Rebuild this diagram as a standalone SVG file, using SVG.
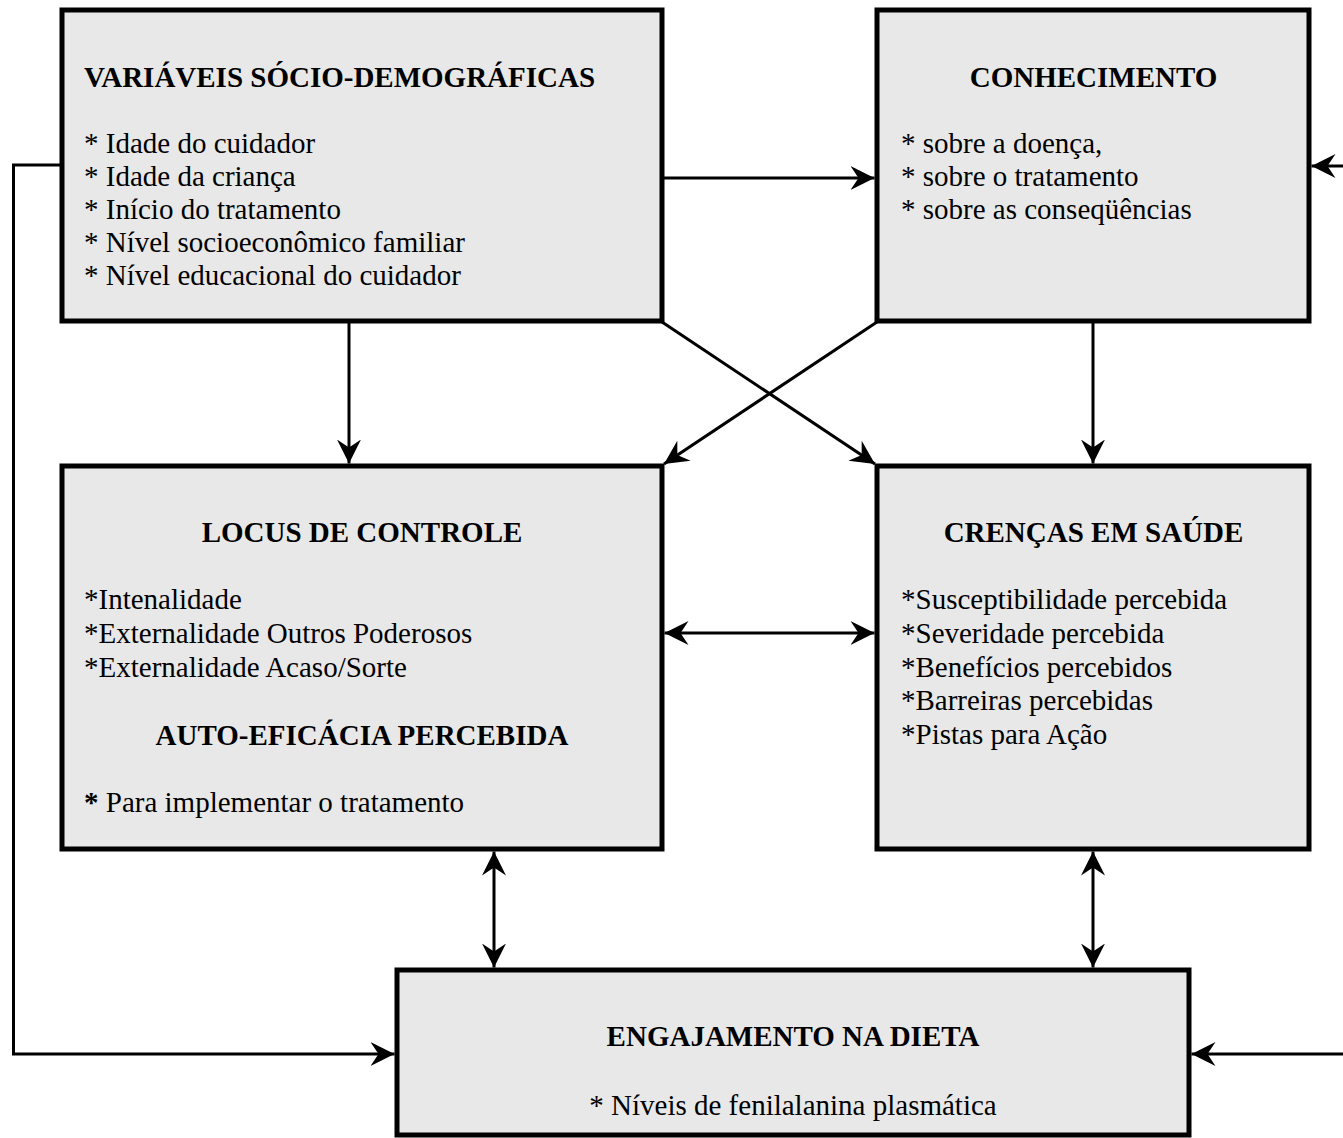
<svg xmlns="http://www.w3.org/2000/svg" width="1343" height="1138" viewBox="0 0 1343 1138">
<style>
.box{fill:#e8e8e8;stroke:#000;stroke-width:5}
.t{font-family:"Liberation Serif","Times New Roman",serif;font-size:29px;fill:#000}
.b{font-weight:bold}
.c{text-anchor:middle}
.ln{fill:none;stroke:#000;stroke-width:3}
</style>
<defs>
<marker id="ah" markerUnits="userSpaceOnUse" markerWidth="24" markerHeight="24" viewBox="0 0 24 24" refX="24" refY="12" orient="auto-start-reverse">
<path d="M0,0 L24,12 L0,24 L8,12 Z" fill="#000"/>
</marker>
</defs>
<rect width="1343" height="1138" fill="#fff"/>
<g id="connectors">
<path class="ln" d="M60,165 H13.5 V1054 H394.5" marker-end="url(#ah)"/>
<path class="ln" d="M1343,166 H1311.5" marker-end="url(#ah)"/>
<path class="ln" d="M1343,1054 H1191.5" marker-end="url(#ah)"/>
<path class="ln" d="M664,178 H874.5" marker-end="url(#ah)"/>
<path class="ln" d="M349,323 V463.5" marker-end="url(#ah)"/>
<path class="ln" d="M1093,323 V463.5" marker-end="url(#ah)"/>
<path class="ln" d="M662,322 L875,464" marker-end="url(#ah)"/>
<path class="ln" d="M877,322 L664,464" marker-end="url(#ah)"/>
<path class="ln" d="M664.5,633 H874.5" marker-start="url(#ah)" marker-end="url(#ah)"/>
<path class="ln" d="M494,851.5 V967.5" marker-start="url(#ah)" marker-end="url(#ah)"/>
<path class="ln" d="M1093,851.5 V967.5" marker-start="url(#ah)" marker-end="url(#ah)"/>
</g>
<g id="socio">
<rect class="box" x="62" y="10" width="600" height="311"/>
<text class="t b" x="84" y="87">VARIÁVEIS SÓCIO-DEMOGRÁFICAS</text>
<text class="t" x="84" y="153">* Idade do cuidador</text>
<text class="t" x="84" y="186">* Idade da criança</text>
<text class="t" x="84" y="219">* Início do tratamento</text>
<text class="t" x="84" y="252">* Nível socioeconômico familiar</text>
<text class="t" x="84" y="285">* Nível educacional do cuidador</text>
</g>
<g id="conhecimento">
<rect class="box" x="877" y="10" width="432" height="311"/>
<text class="t b c" x="1093.5" y="87">CONHECIMENTO</text>
<text class="t" x="901" y="153">* sobre a doença,</text>
<text class="t" x="901" y="186">* sobre o tratamento</text>
<text class="t" x="901" y="219">* sobre as conseqüências</text>
</g>
<g id="locus">
<rect class="box" x="62" y="466" width="600" height="383"/>
<text class="t b c" x="362" y="542">LOCUS DE CONTROLE</text>
<text class="t" x="84" y="609">*Intenalidade</text>
<text class="t" x="84" y="643">*Externalidade Outros Poderosos</text>
<text class="t" x="84" y="677">*Externalidade Acaso/Sorte</text>
<text class="t b c" x="362" y="745">AUTO-EFICÁCIA PERCEBIDA</text>
<text class="t" x="84" y="812"><tspan class="b">*</tspan> Para implementar o tratamento</text>
</g>
<g id="crencas">
<rect class="box" x="877" y="466" width="432" height="383"/>
<text class="t b c" x="1093.5" y="542">CRENÇAS EM SAÚDE</text>
<text class="t" x="901" y="609">*Susceptibilidade percebida</text>
<text class="t" x="901" y="643">*Severidade percebida</text>
<text class="t" x="901" y="677">*Benefícios percebidos</text>
<text class="t" x="901" y="710">*Barreiras percebidas</text>
<text class="t" x="901" y="744">*Pistas para Ação</text>
</g>
<g id="engajamento">
<rect class="box" x="397" y="970" width="792" height="165"/>
<text class="t b c" x="793" y="1046">ENGAJAMENTO NA DIETA</text>
<text class="t c" x="793" y="1115">* Níveis de fenilalanina plasmática</text>
</g>
</svg>
